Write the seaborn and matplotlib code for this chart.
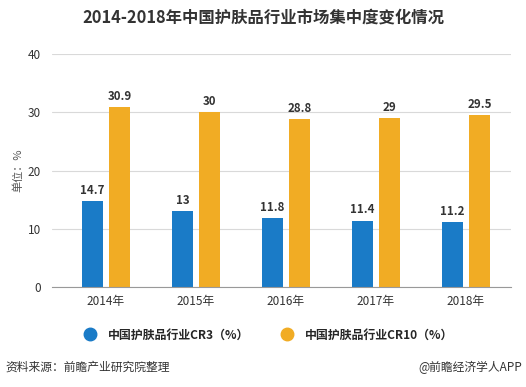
import matplotlib
matplotlib.use("Agg")
import matplotlib.pyplot as plt
import seaborn as sns
import pandas as pd
from matplotlib.lines import Line2D

years = ["2014年", "2015年", "2016年", "2017年", "2018年"]
cr3 = [14.7, 13, 11.8, 11.4, 11.2]
cr10 = [30.9, 30, 28.8, 29, 29.5]
series_names = ["中国护肤品行业CR3（%）", "中国护肤品行业CR10（%）"]
colors = ["#1a7bc7", "#f1ac24"]

sns.set_theme(style="white")
plt.rcParams['font.family'] = ['Noto Sans CJK SC', 'DejaVu Sans']

df = pd.DataFrame({
    "year": years * 2,
    "value": cr3 + cr10,
    "series": [series_names[0]] * 5 + [series_names[1]] * 5,
})

fig = plt.figure(figsize=(5.26, 3.87), dpi=100)
ax = fig.add_axes([52/526, 1-287/387, (511-52)/526, (287-54)/387])
sns.barplot(data=df, x="year", y="value", hue="series", palette=colors,
            width=0.6, gap=0.22, ax=ax, legend=False, saturation=1, linewidth=0)
ax.set_xlim(-0.6, 4.5)
ax.set_ylim(0, 40)
ax.set_yticks([0, 10, 20, 30, 40])
ax.yaxis.grid(True, color="#d9d9d9", linewidth=0.8)
ax.set_axisbelow(True)
for s in ["top", "right", "left"]:
    ax.spines[s].set_visible(False)
ax.spines["bottom"].set_color("#999999")
ax.spines["bottom"].set_linewidth(0.8)
ax.tick_params(axis="x", length=4, color="#999999", labelsize=8.5, labelcolor="#333333", pad=2)
ax.tick_params(axis="y", length=0, labelsize=8.5, labelcolor="#333333", pad=8)
ax.set_xlabel("")
ax.set_ylabel("单位：%", fontsize=8, color="#555555", labelpad=3)

for cont in ax.containers:
    ax.bar_label(cont, fmt="%g", padding=3, fontsize=8.3, fontweight="bold", color="#333333")

fig.text(0.5, 1-18/387, "2014-2018年中国护肤品行业市场集中度变化情况", ha="center", va="center",
         fontsize=11.8, fontweight="bold", color="#333333")

handles = [Line2D([0], [0], marker="o", linestyle="", markersize=9,
                  markerfacecolor=c, markeredgecolor=c) for c in colors]
fig.legend(handles, series_names, loc="center", bbox_to_anchor=(0.505, 1-335/387),
           ncol=2, frameon=False, handletextpad=0.5, columnspacing=2.2,
           prop={"weight": "bold", "size": 8.6})

fig.text(5/526, 1-367/387, "资料来源：前瞻产业研究院整理", ha="left", va="center", fontsize=8.5, color="#333333")
fig.text(522/526, 1-367/387, "@前瞻经济学人APP", ha="right", va="center", fontsize=8.5, color="#333333")

fig.savefig("out.png", dpi=100)
